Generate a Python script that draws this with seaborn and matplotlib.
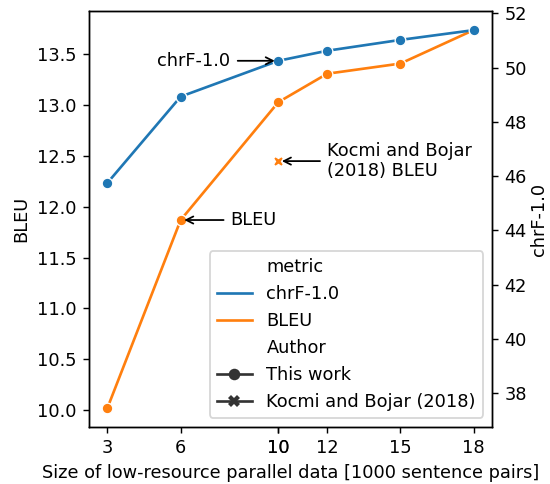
import pandas as pd
import seaborn as sns
import matplotlib.pyplot as plt

# Values
sizes = [3, 6, 10, 12, 15, 18]
chrf = [45.75, 48.93, 50.25, 50.62, 51.02, 51.38]
bleu = [10.02, 11.87, 13.03, 13.31, 13.41, 13.74]
kocmi_sizes = [10]
kocmi_bleu = [12.45]

metric_order = ['chrF-1.0', 'BLEU']
author_order = ['This work', 'Kocmi and Bojar (2018)']

df_chrf = pd.DataFrame({'size': sizes, 'score': chrf,
                        'metric': 'chrF-1.0', 'Author': 'This work'})
df_bleu = pd.concat([
    pd.DataFrame({'size': sizes, 'score': bleu,
                  'metric': 'BLEU', 'Author': 'This work'}),
    pd.DataFrame({'size': kocmi_sizes, 'score': kocmi_bleu,
                  'metric': 'BLEU', 'Author': 'Kocmi and Bojar (2018)'}),
], ignore_index=True)

# the reference looks like a default-sized figure scaled up ~1.28x
dpi = 128
fig, ax = plt.subplots(figsize=(550 / dpi, 484 / dpi))
ax2 = ax.twinx()

# BLEU on the left axis (this one carries the legend)
sns.lineplot(data=df_bleu, x='size', y='score', hue='metric', hue_order=metric_order,
             style='Author', style_order=author_order, markers=['o', 'X'],
             dashes=False, ax=ax)
# chrF on the right axis
sns.lineplot(data=df_chrf, x='size', y='score', hue='metric', hue_order=metric_order,
             style='Author', style_order=author_order, markers=['o', 'X'],
             dashes=False, legend=False, ax=ax2)

ax2.set_ylim(36.76, 52.08)
ax.set_ylabel('BLEU')
ax2.set_ylabel('chrF-1.0', labelpad=2)
ax.set_xlabel('Size of low-resource parallel data [1000 sentence pairs]')
ax.set_xticks(list(df_bleu['size']))

sns.move_legend(ax, 'lower right')
# bigger, edge-less markers in the legend like the reference
for h in ax.get_legend().legend_handles:
    if h is not None and h.get_marker() not in (None, 'None', ''):
        h.set_markersize(6.5)
        h.set_markeredgewidth(0)

arrow = dict(arrowstyle='->', color='black')
ax2.annotate('chrF-1.0', xy=(10, chrf[2]), xytext=(5.05, chrf[2]),
             ha='left', va='center', arrowprops=arrow)
ax.annotate('BLEU', xy=(6, bleu[1]), xytext=(8.05, bleu[1]),
            ha='left', va='center', arrowprops=arrow)
ax.annotate('Kocmi and Bojar\n(2018) BLEU', xy=(10, kocmi_bleu[0]),
            xytext=(12.0, kocmi_bleu[0]), ha='left', va='center',
            multialignment='left', arrowprops=arrow)

fig.subplots_adjust(left=0.162, right=0.8945, top=0.977, bottom=0.118)
fig.savefig('out.png', dpi=dpi)
